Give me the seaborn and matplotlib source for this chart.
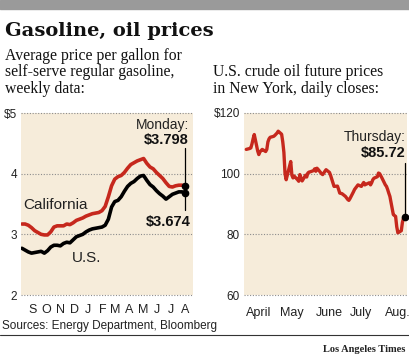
import pandas as pd
import matplotlib
matplotlib.use("Agg")
import matplotlib.pyplot as plt
from matplotlib.patches import Rectangle
import seaborn as sns

# weekly gasoline prices, $ per gallon (last week = Monday Aug 15, 2011)
gas_last_week = "2011-08-15"
california = [3.17, 3.17, 3.15, 3.11, 3.06, 3.03, 3.00, 2.99, 2.99, 3.04,
              3.12, 3.14, 3.14, 3.14, 3.17, 3.16, 3.19, 3.23, 3.25, 3.27,
              3.30, 3.32, 3.34, 3.35, 3.36, 3.39, 3.46, 3.62, 3.80, 3.91,
              3.95, 3.97, 4.02, 4.09, 4.15, 4.18, 4.21, 4.23, 4.25, 4.17,
              4.11, 4.08, 4.02, 3.97, 3.92, 3.85, 3.79, 3.78, 3.80, 3.81,
              3.81, 3.798]
us = [2.77, 2.74, 2.71, 2.69, 2.70, 2.71, 2.72, 2.69, 2.73, 2.79,
      2.82, 2.82, 2.81, 2.85, 2.87, 2.86, 2.91, 2.96, 2.98, 3.00,
      3.04, 3.07, 3.09, 3.10, 3.11, 3.12, 3.15, 3.25, 3.45, 3.54,
      3.56, 3.62, 3.71, 3.79, 3.84, 3.87, 3.92, 3.96, 3.97, 3.89,
      3.82, 3.78, 3.72, 3.67, 3.63, 3.58, 3.62, 3.66, 3.68, 3.70,
      3.70, 3.674]
gas_months = ["S", "O", "N", "D", "J", "F", "M", "A", "M", "J", "J", "A"]

# crude oil futures, daily closes, $ per barrel (Apr 1 - Aug 18, 2011)
oil_april = [108.0, 108.3, 108.5, 109.8, 111.5, 112.9, 107.5, 106.3, 107.2, 107.6,
             108.0, 107.3, 108.0, 110.5, 111.5, 112.0, 112.3, 112.6, 113.0, 113.4,
             114.0]
oil_may = [113.0, 110.5, 107.0, 100.0, 98.0, 102.5, 104.0, 99.5, 98.6, 99.2,
           98.0, 97.5, 99.7, 98.5, 97.6, 99.5, 98.9, 100.2, 100.5, 100.6,
           101.0, 101.6]
oil_june = [100.8, 101.8, 101.4, 100.0, 99.7, 100.2, 100.8, 101.3, 100.4, 99.4,
            98.2, 97.0, 95.8, 95.9, 94.8, 93.6, 93.5, 93.4, 92.5, 92.0,
            91.5, 91.2]
oil_july = [91.8, 94.0, 94.8, 95.3, 95.8, 96.3, 95.8, 96.5, 97.1, 96.3,
            96.5, 97.0, 96.3, 97.0, 98.0, 98.5, 99.0, 100.2, 100.0, 99.3,
            98.6]
oil_aug = [96.3, 95.8, 94.8, 93.6, 92.5, 86.5, 86.2, 85.9, 82.5, 80.5,
           81.2, 84.0, 85.4, 85.72]
oil_months = ["April", "May", "June", "July", "Aug."]

W, H = 410, 354
bg = "#f6ecda"
red = "#c6281d"

sns.set_style("white")
plt.rcParams["font.family"] = ["Liberation Sans", "DejaVu Sans"]

weeks = pd.date_range(end=gas_last_week, periods=len(california), freq="7D")
gas = pd.DataFrame({"week": weeks, "California": california, "U.S.": us})
gas = gas.melt("week", var_name="area", value_name="price")

days = pd.bdate_range("2011-04-01", "2011-08-18")
oil = pd.DataFrame({"day": days,
                    "price": oil_april + oil_may + oil_june + oil_july + oil_aug})

fig = plt.figure(figsize=(W / 100, H / 100), dpi=100)
ax1 = fig.add_axes([21 / W, 1 - 295 / H, 172 / W, 182 / H])
ax2 = fig.add_axes([244 / W, 1 - 295 / H, 163 / W, 182 / H])

for ax in (ax1, ax2):
    ax.set_facecolor(bg)
    for s in ax.spines.values():
        s.set_visible(False)
    ax.grid(axis="y", color="#8c8c8c", ls=(0, (1, 1.5)), lw=0.8)
    for gl in ax.get_ygridlines():
        gl.set_clip_on(False)
    ax.tick_params(axis="y", length=0, pad=3, labelsize=8.5, labelcolor="#222")
    ax.tick_params(axis="x", which="both", direction="inout", color="#444",
                   width=0.8, labelsize=9, labelcolor="#222")

# gasoline panel
sns.lineplot(data=gas, x="week", y="price", hue="area",
             palette={"California": red, "U.S.": "black"},
             lw=2.6, legend=False, ax=ax1)
ax1.set_xlim(pd.Timestamp("2010-08-21"), pd.Timestamp("2011-09-01"))
ax1.set_ylim(2, 5)
ax1.set_yticks([2, 3, 4, 5], ["2", "3", "4", "$5"])
mid = pd.date_range("2010-09-01", periods=12, freq="MS") + pd.Timedelta(days=14)
ax1.set_xticks(mid, gas_months)
ax1.set_xticks(pd.date_range("2010-09-01", "2011-08-01", freq="MS"), minor=True)
ax1.tick_params(axis="x", which="both", length=5, pad=4)
ax1.set_xlabel("")
ax1.set_ylabel("")

last = weeks[-1]
ax1.plot([last, last], [3.798, 3.674], "o", color="black", ms=4.5, clip_on=False, zorder=5)
ax1.plot([last, last], [4.42, 3.82], color="black", lw=0.9, clip_on=False)
ax1.plot([last, last], [3.65, 3.40], color="black", lw=0.9, clip_on=False)
ax1.text(0.975, 0.934, "Monday:", transform=ax1.transAxes, ha="right", va="center",
         fontsize=10, color="#222")
ax1.text(0.975, 0.852, "$3.798", transform=ax1.transAxes, ha="right", va="center",
         fontsize=10.5, fontweight="bold", color="#111")
ax1.text(0.985, 0.40, "$3.674", transform=ax1.transAxes, ha="right", va="center",
         fontsize=10.5, fontweight="bold", color="#111")
ax1.text(0.012, 0.495, "California", transform=ax1.transAxes, ha="left", va="center",
         fontsize=11, color="#222")
ax1.text(0.297, 0.203, "U.S.", transform=ax1.transAxes, ha="left", va="center",
         fontsize=11, color="#222")

# oil panel
sns.lineplot(data=oil, x="day", y="price", color=red, lw=2.4, ax=ax2)
ax2.set_xlim(pd.Timestamp("2011-03-30"), pd.Timestamp("2011-08-20"))
ax2.set_ylim(60, 120)
ax2.set_yticks([60, 80, 100, 120], ["60", "80", "100", "$120"])
ax2.set_xticks(pd.date_range("2011-04-01", periods=5, freq="MS"), oil_months)
for lab in ax2.get_xticklabels():
    lab.set_ha("left")
ax2.tick_params(axis="x", length=5, pad=6)
ax2.set_xlabel("")
ax2.set_ylabel("")

end = days[-1]
ax2.plot([end], [85.72], "o", color="black", ms=4.5, clip_on=False, zorder=5)
ax2.plot([end, end], [103.5, 86.5], color="black", lw=0.9, clip_on=False)
ax2.text(0.99, 0.868, "Thursday:", transform=ax2.transAxes, ha="right", va="center",
         fontsize=10, color="#222")
ax2.text(0.99, 0.78, "$85.72", transform=ax2.transAxes, ha="right", va="center",
         fontsize=10.5, fontweight="bold", color="#111")

# header and footer
fig.patches.append(Rectangle((0, 1 - 9 / H), 1, 9 / H, transform=fig.transFigure,
                             color="#9a9a9a", zorder=0))
fig.text(5 / W, 1 - 36 / H, "Gasoline, oil prices", family="DejaVu Serif",
         fontweight="bold", fontsize=14, va="baseline", color="#111")
left_sub = ["Average price per gallon for", "self-serve regular gasoline,", "weekly data:"]
right_sub = ["U.S. crude oil future prices", "in New York, daily closes:"]
for i, line in enumerate(left_sub):
    fig.text(5 / W, 1 - (60 + 16.5 * i) / H, line, family="Liberation Serif",
             fontsize=11.3, va="baseline", color="#111")
for i, line in enumerate(right_sub):
    fig.text(213 / W, 1 - (76.5 + 16.5 * i) / H, line, family="Liberation Serif",
             fontsize=11.3, va="baseline", color="#111")

fig.text(2 / W, 1 - 328.5 / H, "Sources: Energy Department, Bloomberg",
         fontsize=8.5, va="baseline", color="#222")
fig.add_artist(plt.Line2D([0, 1], [1 - 335 / H, 1 - 335 / H], color="#333", lw=0.8))
fig.text(405 / W, 1 - 352 / H, "Los Angeles Times", family="Liberation Serif",
         fontweight="bold", fontsize=7.5, ha="right", va="baseline", color="#222")

fig.savefig("out.png", dpi=100, facecolor="white")
